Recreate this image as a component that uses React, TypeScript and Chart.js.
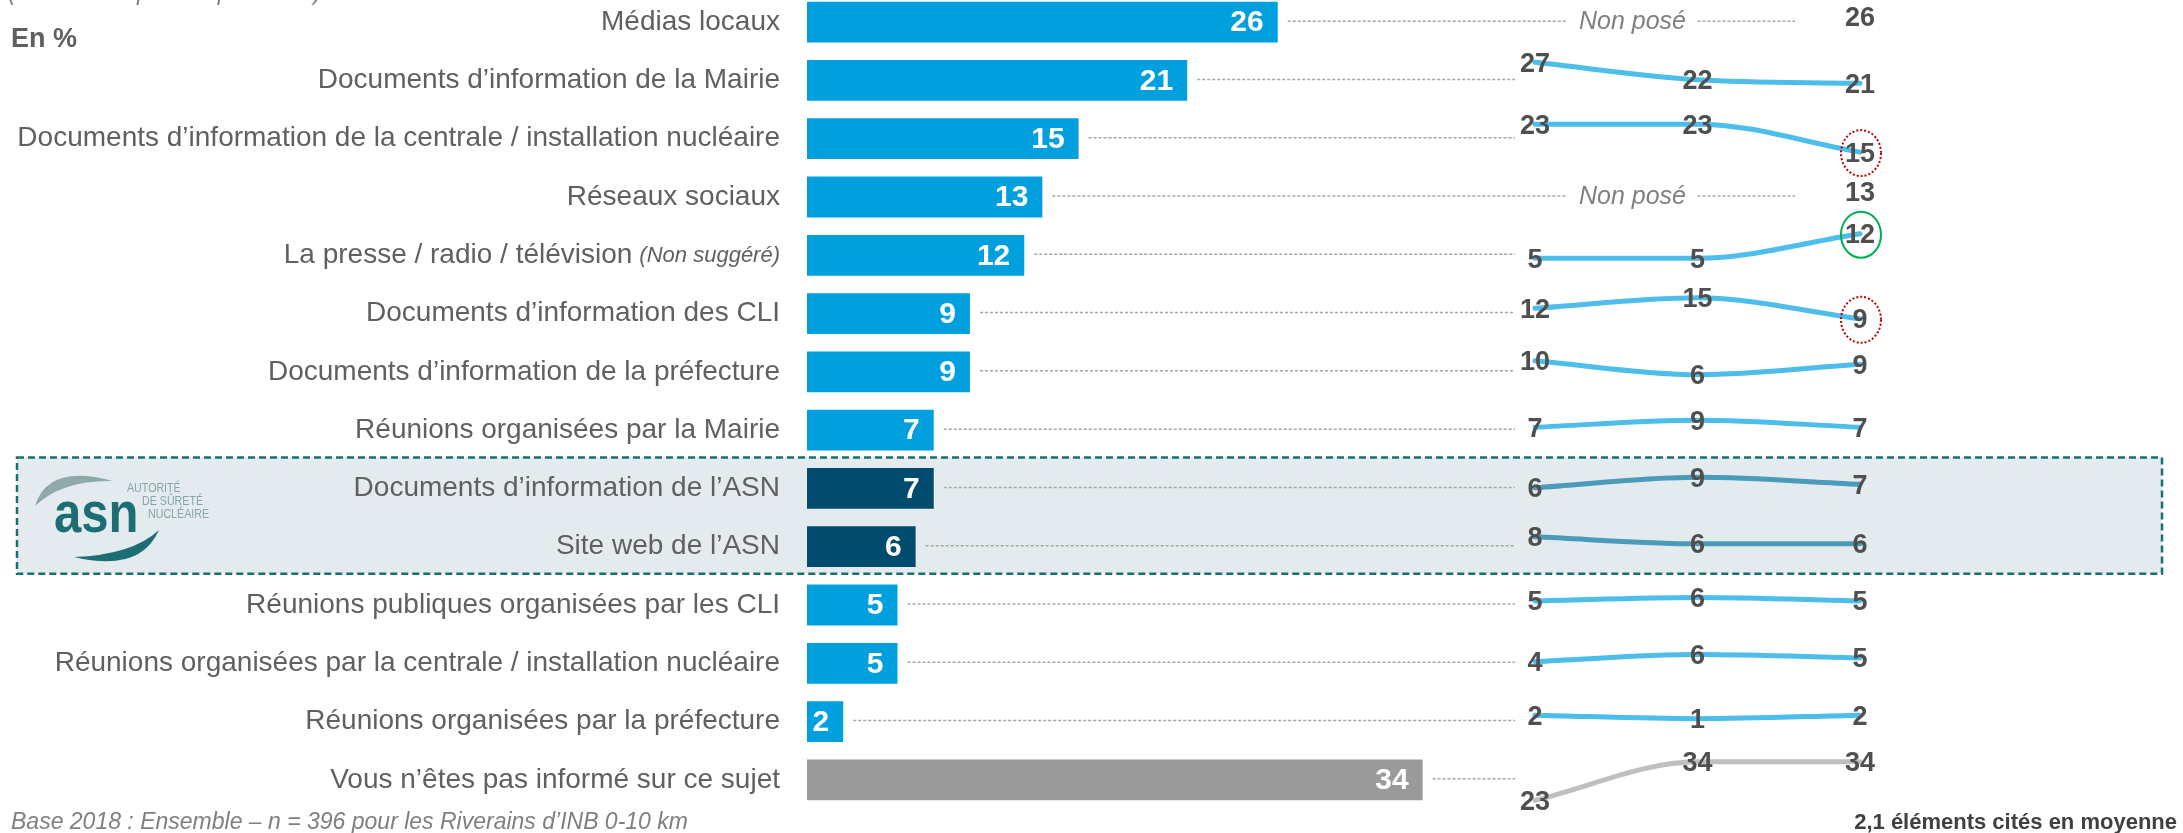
import React, { useEffect, useRef } from "react";
import { Chart, registerables } from "chart.js";

Chart.register(...registerables);

// ---------------- data ----------------
const categories = [
  "Médias locaux",
  "Documents d’information de la Mairie",
  "Documents d’information de la centrale / installation nucléaire",
  "Réseaux sociaux",
  "La presse / radio / télévision",
  "Documents d’information des CLI",
  "Documents d’information de la préfecture",
  "Réunions organisées par la Mairie",
  "Documents d’information de l’ASN",
  "Site web de l’ASN",
  "Réunions publiques organisées par les CLI",
  "Réunions organisées par la centrale / installation nucléaire",
  "Réunions organisées par la préfecture",
  "Vous n’êtes pas informé sur ce sujet",
];
const categoryNotes = ["", "", "", "", "(Non suggéré)", "", "", "", "", "", "", "", "", ""];
const values2018 = [26, 21, 15, 13, 12, 9, 9, 7, 7, 6, 5, 5, 2, 34];
const wavePrev2: (number | null)[] = [null, 27, 23, null, 5, 12, 10, 7, 6, 8, 5, 4, 2, 23];
const wavePrev1: (number | null)[] = [null, 22, 23, null, 5, 15, 6, 9, 9, 6, 6, 6, 1, 34];
const waveCurrent = [26, 21, 15, 13, 12, 9, 9, 7, 7, 6, 5, 5, 2, 34];
const notAskedLabel = "Non posé";
const asnRows = [8, 9];
const noInfoRow = 13;
const decreaseMarks = [2, 5];
const increaseMarks = [4];
const unitLabel = "En %";
const topNote = "(Plusieurs réponses possibles)";
const baseNote = "Base 2018 : Ensemble – n = 396 pour les Riverains d’INB 0-10 km";
const averageNote = "2,1 éléments cités en moyenne";
const logoWord = "asn";
const logoLines = ["AUTORITÉ", "DE SÛRETÉ", "NUCLÉAIRE"];

// ---------------- style ----------------
const FONT = "'Liberation Sans', Arial, Helvetica, sans-serif";
const W = 2183;
const OFF = 40;
const H = 833 + OFF;
const BLUE = "#00a0df";
const DARK = "#004b6e";
const GREY_BAR = "#9a9a9a";
const LINE_BLUE = "#4dbde9";
const LINE_ASN = "#4a9ab9";
const LINE_GREY = "#bfbfbf";
const TEXT = "#606060";
const VAL_TEXT = "#4f4f4f";
const K = 0.06; // rows per percentage point for the trend lines
const SHIFT = -0.09;

const barColor = (i: number) =>
  asnRows.includes(i) ? DARK : i === noInfoRow ? GREY_BAR : BLUE;
const lineColor = (i: number) =>
  asnRows.includes(i) ? LINE_ASN : i === noInfoRow ? LINE_GREY : LINE_BLUE;

function buildLineDatasets() {
  return categories.map((_, i) => {
    const vals = [wavePrev2[i], wavePrev1[i], waveCurrent[i]];
    const pts = vals
      .map((v, j) => (v == null ? null : { x: j, v: v as number }))
      .filter((p) => p !== null) as { x: number; v: number }[];
    const mean = pts.reduce((s, p) => s + p.v, 0) / pts.length;
    return {
      type: "line" as const,
      label: categories[i],
      indexAxis: "x" as const,
      xAxisID: "x2",
      yAxisID: "y2",
      data: pts.map((p) => ({ x: p.x, y: i - (p.v - mean) * K + SHIFT, v: p.v })),
      borderColor: lineColor(i),
      borderWidth: 5,
      pointRadius: 0,
      tension: 0.4,
      cubicInterpolationMode: "monotone" as const,
      borderCapStyle: "round" as const,
    };
  });
}

function dashed(ctx: CanvasRenderingContext2D, x1: number, x2: number, y: number) {
  if (x2 <= x1) return;
  ctx.save();
  ctx.strokeStyle = "#a6a6a6";
  ctx.lineWidth = 1.5;
  ctx.setLineDash([3, 2]);
  ctx.beginPath();
  ctx.moveTo(x1, y);
  ctx.lineTo(x2, y);
  ctx.stroke();
  ctx.restore();
}

function drawLogo(ctx: CanvasRenderingContext2D) {
  const o = OFF;
  ctx.save();
  // grey crescent
  ctx.fillStyle = "#8fa9a7";
  ctx.beginPath();
  ctx.moveTo(35, 506 + o);
  ctx.quadraticCurveTo(48, 463 + o, 113, 481 + o);
  ctx.quadraticCurveTo(62, 480 + o, 35, 506 + o);
  ctx.fill();
  // dark crescent
  ctx.fillStyle = "#1d6e74";
  ctx.beginPath();
  ctx.moveTo(74, 557 + o);
  ctx.quadraticCurveTo(140, 573 + o, 159, 530 + o);
  ctx.quadraticCurveTo(132, 555 + o, 74, 557 + o);
  ctx.fill();
  // word
  ctx.save();
  ctx.translate(54, 532 + o);
  ctx.scale(0.86, 1);
  ctx.font = `bold 57px ${FONT}`;
  ctx.textBaseline = "alphabetic";
  ctx.textAlign = "left";
  ctx.fillText(logoWord, 0, 0);
  ctx.restore();
  // small lines
  const xs = [127, 142, 148];
  const ys = [492, 505, 518];
  ctx.fillStyle = "#86a5a3";
  logoLines.forEach((t, k) => {
    ctx.save();
    ctx.translate(xs[k], ys[k] + o);
    ctx.scale(0.82, 1);
    ctx.font = `13px ${FONT}`;
    ctx.textBaseline = "alphabetic";
    ctx.fillText(t, 0, 0);
    ctx.restore();
  });
  ctx.restore();
}

const decorPlugin = {
  id: "decor",
  beforeDraw(chart: any) {
    const ctx: CanvasRenderingContext2D = chart.ctx;
    const ys = chart.scales.y;
    const top = ys.getPixelForValue(asnRows[0]) - 31;
    const bottom = ys.getPixelForValue(asnRows[asnRows.length - 1]) + 27;
    ctx.save();
    ctx.fillStyle = "#e4ebef";
    ctx.fillRect(17, top, 2162 - 17, bottom - top);
    ctx.strokeStyle = "#17706f";
    ctx.lineWidth = 2.5;
    ctx.setLineDash([7, 4]);
    ctx.strokeRect(17, top, 2162 - 17, bottom - top);
    ctx.restore();
    drawLogo(ctx);

    ctx.save();
    ctx.textAlign = "left";
    ctx.textBaseline = "alphabetic";
    ctx.fillStyle = "#7f7f7f";
    ctx.font = `italic 23px ${FONT}`;
    ctx.fillText(topNote, 8, 0 + OFF);
    ctx.fillStyle = TEXT;
    ctx.font = `bold 27px ${FONT}`;
    ctx.fillText(unitLabel, 11, 47 + OFF);
    ctx.fillStyle = "#7f7f7f";
    ctx.font = `italic 23px ${FONT}`;
    ctx.fillText(baseNote, 11, 829 + OFF);
    ctx.fillStyle = "#404040";
    ctx.font = `bold 22px ${FONT}`;
    ctx.textAlign = "right";
    ctx.fillText(averageNote, 2177, 829 + OFF);
    ctx.restore();
  },
  beforeDatasetsDraw(chart: any) {
    const ctx: CanvasRenderingContext2D = chart.ctx;
    const bars = chart.getDatasetMeta(0).data;
    const x2 = chart.scales.x2;
    ctx.save();
    categories.forEach((_, i) => {
      const bar = bars[i];
      const y = bar.y - 1;
      const start = bar.x + 10;
      if (wavePrev2[i] == null && wavePrev1[i] == null) {
        dashed(ctx, start, x2.getPixelForValue(0.2), y);
        ctx.fillStyle = "#7f7f7f";
        ctx.font = `italic 25px ${FONT}`;
        ctx.textAlign = "center";
        ctx.textBaseline = "middle";
        ctx.fillText(notAskedLabel, x2.getPixelForValue(0.6), y + 1);
        dashed(ctx, x2.getPixelForValue(1.0), x2.getPixelForValue(1.6), y);
      } else {
        dashed(ctx, start, x2.getPixelForValue(0) - 20, y);
      }
    });
    ctx.restore();
  },
  afterDatasetsDraw(chart: any) {
    const ctx: CanvasRenderingContext2D = chart.ctx;
    const bars = chart.getDatasetMeta(0).data;
    const ys = chart.scales.y;
    ctx.save();
    // values inside bars
    ctx.fillStyle = "#ffffff";
    ctx.font = `bold 30px ${FONT}`;
    ctx.textAlign = "right";
    ctx.textBaseline = "middle";
    values2018.forEach((v, i) => {
      const b = bars[i];
      ctx.fillText(String(v), b.x - 14, b.y + 1);
    });
    // trend labels
    ctx.fillStyle = VAL_TEXT;
    ctx.font = `bold 27px ${FONT}`;
    ctx.textAlign = "center";
    categories.forEach((_, i) => {
      const ds = chart.data.datasets[i + 1];
      const meta = chart.getDatasetMeta(i + 1);
      ds.data.forEach((d: any, j: number) => {
        const p = meta.data[j];
        ctx.fillText(String(d.v), p.x, p.y + 2);
      });
    });
    // circles
    const circle = (row: number, color: string, dash: number[]) => {
      const meta = chart.getDatasetMeta(row + 1);
      const p = meta.data[meta.data.length - 1];
      ctx.save();
      ctx.strokeStyle = color;
      ctx.lineWidth = 2;
      ctx.setLineDash(dash);
      ctx.beginPath();
      ctx.ellipse(p.x + 1, p.y + 1, 20, 23, 0, 0, Math.PI * 2);
      ctx.stroke();
      ctx.restore();
    };
    decreaseMarks.forEach((r) => circle(r, "#c00000", [2, 2]));
    increaseMarks.forEach((r) => circle(r, "#00b050", []));
    // labels with notes
    categories.forEach((c, i) => {
      if (!categoryNotes[i]) return;
      const y = ys.getPixelForValue(i);
      const right = ys.right - 27;
      ctx.fillStyle = TEXT;
      ctx.textAlign = "right";
      ctx.textBaseline = "middle";
      ctx.font = `italic 22px ${FONT}`;
      ctx.fillText(categoryNotes[i], right, y + 1);
      const w = ctx.measureText(categoryNotes[i]).width;
      ctx.font = `28px ${FONT}`;
      ctx.fillText(c, right - w - 7, y);
    });
    ctx.restore();
  },
};

export default function App() {
  const ref = useRef<HTMLCanvasElement | null>(null);
  useEffect(() => {
    if (!ref.current) return;
    const chart = new Chart(ref.current, {
      type: "bar",
      data: {
        labels: categories,
        datasets: [
          {
            type: "bar",
            label: "2018",
            data: values2018,
            backgroundColor: categories.map((_, i) => barColor(i)),
            grouped: false,
            barPercentage: 0.7,
            categoryPercentage: 1,
            maxBarThickness: 41,
            xAxisID: "x",
            yAxisID: "y",
          } as any,
          ...(buildLineDatasets() as any[]),
        ],
      },
      options: {
        indexAxis: "y",
        responsive: false,
        animation: false,
        devicePixelRatio: 1,
        layout: { padding: { top: 33, bottom: 24, left: 0, right: 0 } },
        plugins: { legend: { display: false }, tooltip: { enabled: false } },
        scales: {
          x: { type: "linear", min: 0, max: 76, display: false, offset: false },
          x2: { type: "linear", axis: "x", min: -4.48, max: 3.9877, display: false, offset: false },
          y: {
            type: "category",
            offset: true,
            grid: { display: false, drawTicks: false },
            border: { display: false },
            ticks: {
              autoSkip: false,
              padding: 27,
              color: TEXT,
              font: { family: FONT, size: 28 },
              callback: (_v: any, idx: number) => (categoryNotes[idx] ? "" : categories[idx]),
            },
            afterFit: (s: any) => {
              s.width = 807;
              s.paddingTop = 0;
              s.paddingBottom = 0;
            },
          },
          y2: {
            type: "linear",
            axis: "y",
            min: -0.5,
            max: 13.5,
            reverse: true,
            display: false,
            offset: false,
          },
        },
      } as any,
      plugins: [decorPlugin],
    });
    return () => chart.destroy();
  }, []);
  return (
    <div style={{ position: "absolute", left: 0, top: -OFF, width: W, height: H }}>
      <canvas ref={ref} width={W} height={H} style={{ width: W, height: H, display: "block" }} />
    </div>
  );
}
